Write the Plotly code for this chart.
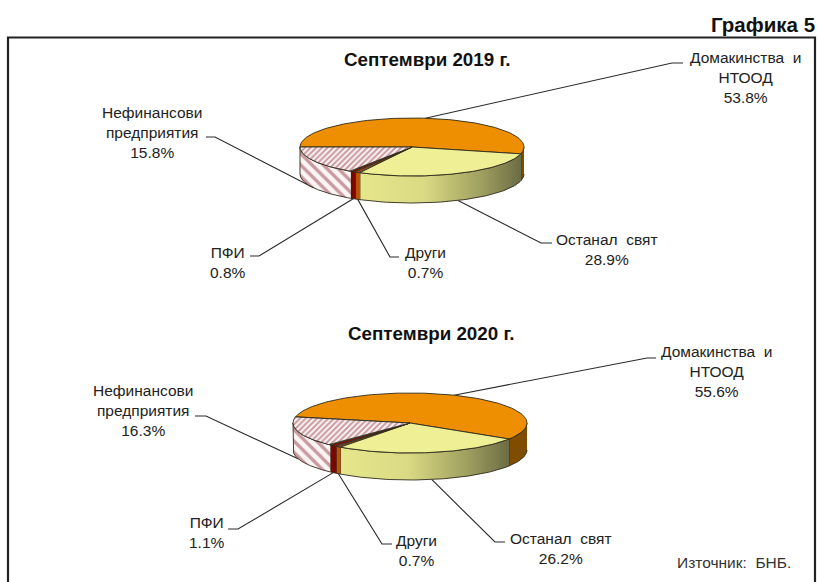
import numpy as np
import plotly.graph_objects as go

# Data
categories = ["Домакинства  и<br>НТООД", "Останал  свят", "Други", "ПФИ", "Нефинансови<br>предприятия"]
values_2019 = [53.8, 28.9, 0.7, 0.8, 15.8]
values_2020 = [55.6, 26.2, 0.7, 1.1, 16.3]
titles = ["Септември 2019 г.", "Септември 2020 г."]

# Styles / geometry
FONT = "Liberation Sans"
TOP = ["#ED8F00", "#EFEF96", "#E05A00", "#8B0A00", None]
SIDE = ["#7F4D00", None, "#C25000", "#7A0800", None]
HATCH = "#96404A"
HBG = "#FBF4F4"
OUT = "#2E2A1A"
PIES = [
    dict(cx=412, cy=147, a=112, b=29, d=27, start=180, vals=values_2019,
         title=(427.5, 59),
         labels=[((672, 63), (683, 63), (745, 77)), ((541, 243), (552, 243), (607, 249)),
                 ((390, 257), (399, 257), (425, 262)), ((259, 256), (250, 256), (228, 262)),
                 ((215, 137), (206, 137), (151.5, 132))]),
    dict(cx=410, cy=423, a=117, b=30, d=27, start=168, vals=values_2020,
         title=(431, 333),
         labels=[((647, 358), (656, 358), (716, 371)), ((495, 542), (505, 542), (561, 548)),
                 ((382, 544), (392, 544), (416.5, 550)), ((238, 529), (228, 529), (207, 532)),
                 ((206, 416), (195, 416), (143, 410))]),
]

fig = go.Figure()


def poly(x, y, **kw):
    fig.add_trace(go.Scatter(x=x, y=y, mode="lines", fill="toself", hoverinfo="skip",
                             showlegend=False, line=kw.pop("line", dict(color=OUT, width=0.9)), **kw))


for p in PIES:
    cx, cy, a, b, d = p["cx"], p["cy"], p["a"], p["b"], p["d"]
    ex = lambda t: cx + a * np.cos(np.radians(t))
    ey = lambda t: cy - b * np.sin(np.radians(t))
    angs = [p["start"]]
    for v in p["vals"]:
        angs.append(angs[-1] - v * 3.6)

    # leader lines + labels (behind the pie)
    for i, (elbow, end, lab) in enumerate(p["labels"]):
        mid = (angs[i] + angs[i + 1]) / 2
        ax, ay = ex(mid), ey(mid)
        if np.sin(np.radians(mid)) < 0:
            ay += d
        fig.add_trace(go.Scatter(x=[ax, elbow[0], end[0]], y=[ay, elbow[1], end[1]], mode="lines",
                                 line=dict(color="#2a2a2a", width=1.1), hoverinfo="skip", showlegend=False))
        fig.add_annotation(x=lab[0], y=lab[1], text=f"{categories[i]}<br>{p['vals'][i]}%",
                           showarrow=False, font=dict(family=FONT, size=15.5, color="#222222"), align="center",
                           xanchor="center", yanchor="middle")

    # side walls (front half only)
    for i in range(5):
        lo, hi = min(angs[i], angs[i + 1]), max(angs[i], angs[i + 1])
        for shift in (0, 360, -360):
            l, h = max(lo + shift, -180), min(hi + shift, 0)
            if h <= l:
                continue
            t = np.linspace(h, l, 80)
            xs = np.r_[ex(t), ex(t[::-1])]
            ys = np.r_[ey(t), ey(t[::-1]) + d]
            kw = {}
            if i == 1:
                kw["fillgradient"] = dict(type="horizontal",
                                          colorscale=[[0, "#E6E68C"], [0.4, "#DADA84"], [0.75, "#A0A060"], [1, "#6C6C45"]])
            elif i == 4:
                kw["fillpattern"] = dict(shape="\\", fgcolor=HATCH, bgcolor=HBG, size=8, solidity=0.42)
                kw["fillcolor"] = HBG
            else:
                kw["fillcolor"] = SIDE[i]
            poly(xs, ys, **kw)

    # top slices
    for i in range(5):
        t = np.linspace(angs[i], angs[i + 1], 120)
        xs = np.r_[cx, ex(t), cx]
        ys = np.r_[cy, ey(t), cy]
        if i == 4:
            poly(xs, ys, fillcolor=HBG,
                 fillpattern=dict(shape="/", fgcolor=HATCH, bgcolor=HBG, size=4, solidity=0.5))
        else:
            poly(xs, ys, fillcolor=TOP[i])

for p, title in zip(PIES, titles):
    fig.add_annotation(x=p["title"][0], y=p["title"][1], text=f"<b>{title}</b>", showarrow=False,
                       font=dict(family=FONT, size=18.8, color="#111111"), xanchor="center", yanchor="middle")

fig.add_annotation(x=817, y=24, text="<b>Графика 5</b>", showarrow=False, xanchor="right", yanchor="middle",
                   font=dict(family=FONT, size=20.5, color="#111111"))
fig.add_annotation(x=793, y=562, text="Източник:  БНБ.", showarrow=False, xanchor="right", yanchor="middle",
                   font=dict(family=FONT, size=15.5, color="#333333"))

fig.add_shape(type="rect", x0=8, y0=37.5, x1=815, y1=590, line=dict(color="#222222", width=2.2), layer="below")

fig.update_layout(width=818, height=582, margin=dict(l=0, r=0, t=0, b=0),
                  paper_bgcolor="white", plot_bgcolor="white", showlegend=False,
                  xaxis=dict(range=[0, 818], visible=False, fixedrange=True),
                  yaxis=dict(range=[582, 0], visible=False, fixedrange=True))
fig.write_html("out.html", config={"displayModeBar": False},
               post_script="document.body.style.margin='0';document.documentElement.style.overflow='hidden';")
